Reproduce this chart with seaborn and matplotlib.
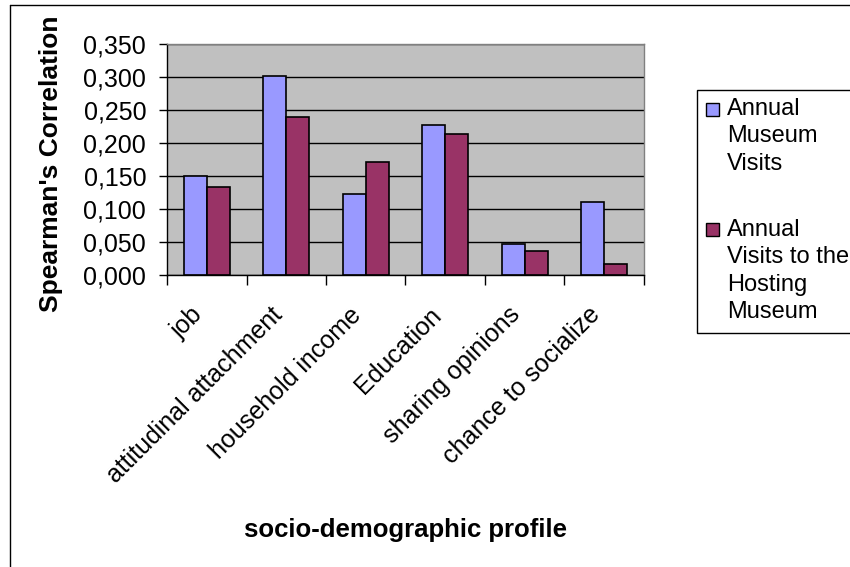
import matplotlib
matplotlib.use("Agg")
import matplotlib.pyplot as plt
import seaborn as sns
import pandas as pd
import numpy as np
from matplotlib.ticker import FuncFormatter, MultipleLocator, FixedLocator
from matplotlib.patches import Rectangle
from matplotlib.lines import Line2D
from matplotlib.transforms import ScaledTranslation

# Spearman correlations per socio-demographic item
categories = ["job", "attitudinal attachment", "household income",
              "Education", "sharing opinions", "chance to socialize"]
museum_visits = [0.150, 0.302, 0.123, 0.228, 0.047, 0.110]
hosting_visits = [0.134, 0.239, 0.171, 0.214, 0.037, 0.016]
series_names = ["Annual Museum Visits", "Annual Visits to the Hosting Museum"]
legend_labels = ["Annual\nMuseum\nVisits", "Annual\nVisits to the\nHosting\nMuseum"]
colors = ["#9999FF", "#993366"]

df = pd.DataFrame({
    "profile": categories * 2,
    "series": [series_names[0]] * len(categories) + [series_names[1]] * len(categories),
    "rho": museum_visits + hosting_visits,
})

sns.set_theme(style="white")
plt.rcParams["font.family"] = ["Liberation Sans", "DejaVu Sans"]
plt.rcParams.update({"text.color": "black", "axes.labelcolor": "black",
                     "xtick.color": "black", "ytick.color": "black"})

W, H = 850, 567
fig = plt.figure(figsize=(W / 100, H / 100), dpi=100)
ax = fig.add_axes([167 / W, 1 - 275 / H, 477 / W, 231 / H])
ax.set_facecolor("#C0C0C0")

sns.barplot(data=df, x="profile", y="rho", hue="series", order=categories,
            hue_order=series_names, palette=colors, saturation=1, width=0.58,
            edgecolor="black", linewidth=1.2, legend=False, ax=ax, zorder=2)

ax.set_ylim(0, 0.35)
ax.set_xlim(-0.5, len(categories) - 0.5)
ax.yaxis.set_major_locator(MultipleLocator(0.05))
ax.yaxis.set_major_formatter(FuncFormatter(lambda v, p: f"{v:.3f}".replace(".", ",")))

# interior horizontal gridlines
for t in ax.get_yticks()[1:-1]:
    ax.axhline(t, color="black", linewidth=1, zorder=1)

for side in ("left", "bottom"):
    ax.spines[side].set_color("black")
    ax.spines[side].set_linewidth(1)
for side in ("top", "right"):
    ax.spines[side].set_color("#808080")
    ax.spines[side].set_linewidth(1)

ax.tick_params(axis="y", direction="out", length=6, width=1, color="black",
               labelcolor="black", pad=9, labelsize=18, left=True)
ax.tick_params(axis="x", which="major", length=0, pad=26, labelsize=18,
               labelcolor="black")
ax.xaxis.set_minor_locator(FixedLocator(np.arange(-0.5, len(categories), 1)))
ax.tick_params(axis="x", which="minor", direction="out", length=7, width=1,
               color="black", bottom=True)
ax.set_xticks(range(len(categories)))
ax.set_xticklabels(categories, rotation=45, ha="right", va="center",
                   rotation_mode="anchor")
shift = ScaledTranslation(-8 / 100, 0, fig.dpi_scale_trans)
for lbl in ax.get_xticklabels():
    lbl.set_transform(lbl.get_transform() + shift)

ax.set_xlabel("socio-demographic profile", fontsize=18.5, fontweight="bold",
              va="center", color="black")
ax.xaxis.set_label_coords(0.5, -(530 - 275) / 231)
ax.set_ylabel("Spearman's Correlation", fontsize=19, fontweight="bold",
              va="center", color="black")
ax.yaxis.set_label_coords(-0.243, 0.48)

# legend box
fig.add_artist(Rectangle((697 / W, 1 - 333 / H), (870 - 697) / W, (333 - 90) / H,
                         transform=fig.transFigure, facecolor="white",
                         edgecolor="black", linewidth=1))
for i, (lab, col) in enumerate(zip(legend_labels, colors)):
    sq_y = [103, 223][i]
    txt_top = [98, 219][i]
    fig.add_artist(Rectangle((706 / W, 1 - (sq_y + 13) / H), 13 / W, 13 / H,
                             transform=fig.transFigure, facecolor=col,
                             edgecolor="black", linewidth=1))
    fig.text(727 / W, 1 - txt_top / H, lab, fontsize=17, va="top", ha="left",
             linespacing=1.32, color="black")

# outer chart frame
fig.add_artist(Line2D([10 / W, 1.01], [1 - 5 / H] * 2, transform=fig.transFigure,
                      color="black", linewidth=1))
fig.add_artist(Line2D([10 / W] * 2, [1 - 5 / H, -0.01], transform=fig.transFigure,
                      color="black", linewidth=1))

fig.savefig("out.png", dpi=100, facecolor="white")
